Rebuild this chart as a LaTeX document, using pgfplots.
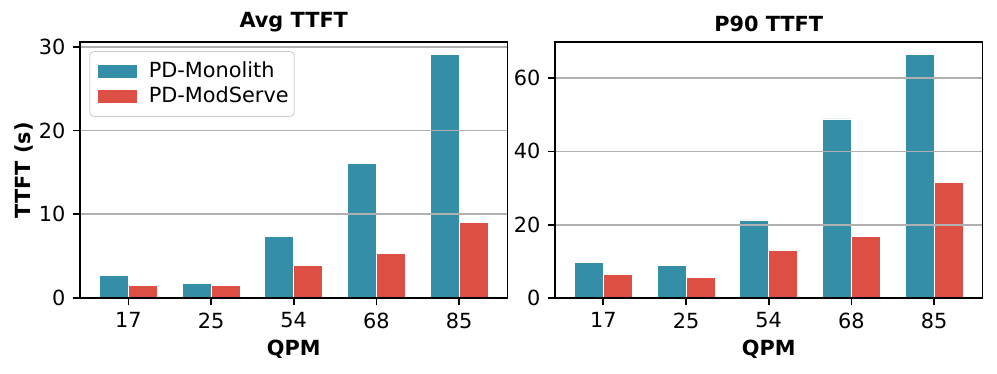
\documentclass[border=0pt]{standalone}
\usepackage{fontspec}
\setmainfont{DejaVu Sans}
\usepackage{pgfplots}
\pgfplotsset{compat=1.18}
\definecolor{cMono}{RGB}{52,142,168}
\definecolor{cMod}{RGB}{221,79,66}
\definecolor{gridc}{HTML}{B0B0B0}
\pgfplotsset{
  ttft/.style={
    scale only axis,
    width=205.2pt, height=122.9pt,
    ybar, bar width=0.35,
    xmin=-0.585, xmax=4.585, ymin=0,
    xtick={0,1,2,3,4}, xticklabels={17,25,54,68,85},
    axis on top,
    axis line style={line width=0.8pt},
    tick style={line width=0.8pt, black},
    major tick length=3.5pt,
    tick align=outside,
    xtick pos=bottom, ytick pos=left,
    ymajorgrids, xmajorgrids=false,
    major grid style={gridc, line width=0.8pt},
    /pgf/number format/assume math mode=true,
    tick label style={font=\fontsize{10}{12}\selectfont},
    xlabel={QPM},
    xlabel style={font=\fontsize{10}{12}\selectfont\bfseries, yshift=1.5pt},
    ylabel style={font=\fontsize{10}{12}\selectfont\bfseries, yshift=-4pt},
    title style={font=\fontsize{10}{12}\selectfont\bfseries, yshift=-4.5pt},
    legend image code/.code={\path (-2.85pt,0) (22.4pt,0);
      \fill[##1, sharp corners, fill opacity=1, draw opacity=1] (0pt,-3.5pt) rectangle (18.9pt,3.5pt);},
  },
}
\pgfplotstableread{
x mono mod
0 2.70 1.50
1 1.79 1.47
2 7.31 3.93
3 16.1 5.36
4 29.1 9.02
}\avgtab
\pgfplotstableread{
x mono mod
0 9.69 6.34
1 8.88 5.70
2 21.3 13.1
3 48.85 16.7
4 66.45 31.5
}\ptab
\begin{document}
\begin{tikzpicture}
\useasboundingbox (-38.4pt,-36pt) rectangle (440.2pt,143.1pt);
\begin{axis}[ttft, at={(0pt,0pt)}, anchor=south west,
  ymax=30.55, ytick={0,10,20,30},
  title={Avg TTFT}, ylabel={TTFT (s)},
  legend style={at={(0,1)}, anchor=north west, xshift=4.5pt, yshift=-4.3pt,
    draw=black!20, rounded corners=2pt, fill=white, fill opacity=0.8, text opacity=1,
    font=\fontsize{10}{12}\selectfont, row sep=-1pt, inner xsep=0.7pt, inner ysep=3pt},
  legend cell align=left,
]
\addplot[fill=cMono, draw=white, line width=0.4pt, bar shift=-0.175] table[x=x,y=mono] {\avgtab};
\addlegendentry{PD-Monolith}
\addplot[fill=cMod, draw=white, line width=0.4pt, bar shift=0.175] table[x=x,y=mod] {\avgtab};
\addlegendentry{PD-ModServe}
\end{axis}
\begin{axis}[ttft, at={(228pt,0pt)}, anchor=south west,
  ymax=69.8, ytick={0,20,40,60},
  title={P90 TTFT},
]
\addplot[fill=cMono, draw=white, line width=0.4pt, bar shift=-0.175] table[x=x,y=mono] {\ptab};
\addplot[fill=cMod, draw=white, line width=0.4pt, bar shift=0.175] table[x=x,y=mod] {\ptab};
\end{axis}
\end{tikzpicture}
\end{document}
